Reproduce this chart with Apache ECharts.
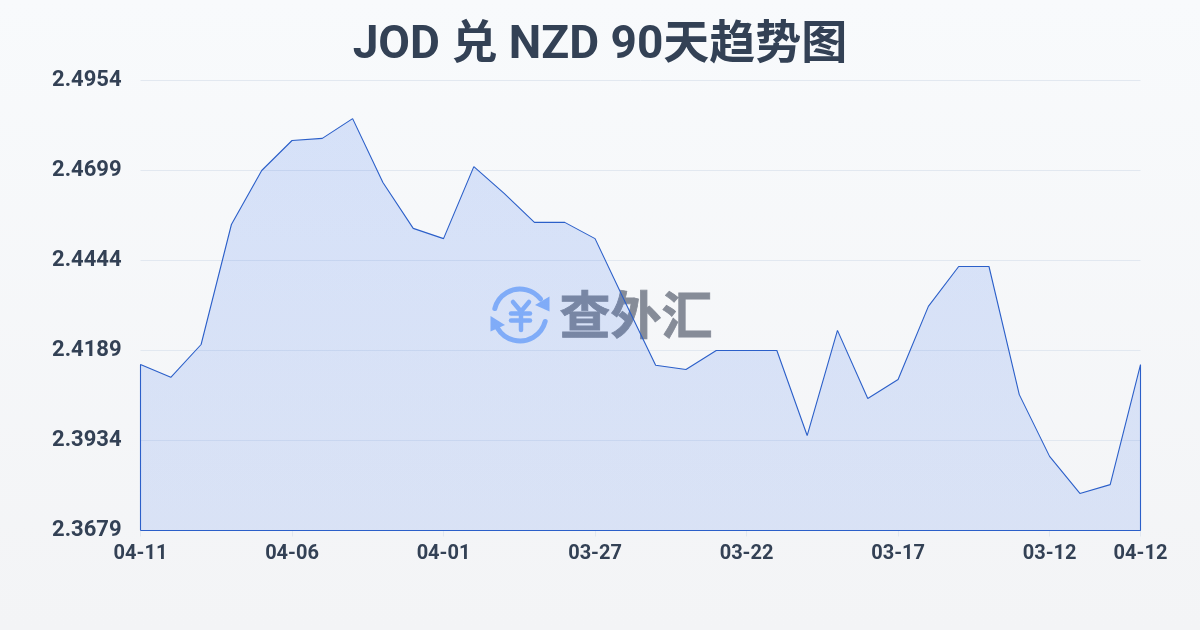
<!DOCTYPE html>
<html>
<head>
<meta charset="utf-8">
<style>html,body{margin:0;padding:0;background:#f8fafc}#c{width:1200px;height:630px}</style>
<script src="https://cdn.jsdelivr.net/npm/echarts@6/dist/echarts.min.js"></script>
</head>
<body>
<div id="c"></div>
<script>
const titleText = 'JOD 兑 NZD 90天趋势图';
const dates = ['04-11','04-10','04-09','04-08','04-07','04-06','04-05','04-04','04-03','04-02','04-01','03-31','03-30','03-29','03-28','03-27','03-26','03-25','03-24','03-23','03-22','03-21','03-20','03-19','03-18','03-17','03-16','03-15','03-14','03-13','03-12','03-11','03-10','04-12'];
const rates = [2.4149,2.4113,2.4206,2.4546,2.4699,2.4784,2.4790,2.4846,2.4665,2.4535,2.4506,2.4710,2.4634,2.4552,2.4552,2.4506,2.4325,2.4147,2.4135,2.4189,2.4189,2.4189,2.3948,2.4246,2.4053,2.4107,2.4314,2.4427,2.4427,2.4064,2.3889,2.3784,2.3809,2.4149];
const shownDates = ['04-11','04-06','04-01','03-27','03-22','03-17','03-12','04-12'];
const yTicks = [2.3679,2.3934,2.4189,2.4444,2.4699,2.4954];

const yMin = yTicks[0], yMax = yTicks[yTicks.length-1];
const lastIdx = dates.length-1;
const outline = [[0,yMin]].concat(rates.map((v,i)=>[i,v]),[[lastIdx,yMin],[0,yMin]]);
const showDate = (i)=>shownDates.includes(dates[i]);
const font = 'Roboto,"Noto Sans CJK SC",sans-serif';
const ink = '#334155';
const iconBlue = '#8fb8fa';
const yenStroke = {fill:'none',stroke:iconBlue,lineWidth:4.5,lineCap:'round',lineJoin:'round'};

const chart = echarts.init(document.getElementById('c'));
chart.setOption({
  animation:false,
  backgroundColor:{type:'linear',x:0,y:0,x2:0,y2:1,colorStops:[{offset:0,color:'#f8fafc'},{offset:1,color:'#f3f4f6'}]},
  title:{text:titleText,left:'center',top:18,textStyle:{fontFamily:font,fontSize:46,fontWeight:'bold',color:ink}},
  grid:{left:140.5,right:59.5,top:80.5,bottom:99.5,containLabel:false},
  xAxis:{type:'category',boundaryGap:false,data:dates,
    axisLine:{show:false},
    axisTick:{show:true,alignWithLabel:true,length:6,interval:(i)=>showDate(i),lineStyle:{color:'#e2e8f0'}},
    axisLabel:{interval:(i)=>showDate(i),fontFamily:font,fontSize:20,fontWeight:'bold',color:ink,margin:13,hideOverlap:false},
    splitLine:{show:false}},
  yAxis:{type:'value',min:yMin,max:yMax,
    axisLine:{show:false},
    axisTick:{show:false,customValues:yTicks},
    axisLabel:{customValues:yTicks,formatter:(v)=>v.toFixed(4),fontFamily:font,fontSize:22,fontWeight:'bold',color:ink,margin:19,verticalAlign:'middle'},
    splitLine:{show:true,lineStyle:{color:'#e2e8f0',width:1}}},
  graphic:[
    {type:'arc',z:-1,shape:{cx:520,cy:315,r:26,startAngle:Math.PI*1.08,endAngle:Math.PI*1.79},style:{fill:'none',stroke:iconBlue,lineWidth:5,lineCap:'round'}},
    {type:'arc',z:-1,shape:{cx:520,cy:315,r:26,startAngle:Math.PI*0.08,endAngle:Math.PI*0.83},style:{fill:'none',stroke:iconBlue,lineWidth:5,lineCap:'round'}},
    {type:'polygon',z:-1,shape:{points:[[549.5,296.5],[549.5,311.5],[535,305]]},style:{fill:iconBlue}},
    {type:'polygon',z:-1,shape:{points:[[490.5,316],[490.5,331.5],[505,325]]},style:{fill:iconBlue}},
    {type:'polyline',z:-1,shape:{points:[[513,302],[521,311.5],[529,302]]},style:yenStroke},
    {type:'polyline',z:-1,shape:{points:[[511,313.5],[530,313.5]]},style:yenStroke},
    {type:'polyline',z:-1,shape:{points:[[511,320.5],[530,320.5]]},style:yenStroke},
    {type:'polyline',z:-1,shape:{points:[[521,312],[521,330]]},style:yenStroke},
    {type:'text',z:-1,style:{text:'查外汇',x:636,y:315,align:'center',verticalAlign:'middle',font:'bold 51px "Noto Sans CJK SC"',fill:'#868c98',stroke:'#868c98',lineWidth:0.8}}
  ],
  series:[{type:'line',data:outline,showSymbol:false,symbol:'none',clip:false,smooth:false,
    lineStyle:{color:'#2b5fc9',width:1.1},
    areaStyle:{opacity:1,origin:'start',color:{type:'linear',x:0,y:0,x2:0,y2:1,colorStops:[{offset:0,color:'rgba(37,99,235,0.155)'},{offset:1,color:'rgba(37,99,235,0.13)'}]}},
    z:3}]
});
</script>
</body>
</html>
